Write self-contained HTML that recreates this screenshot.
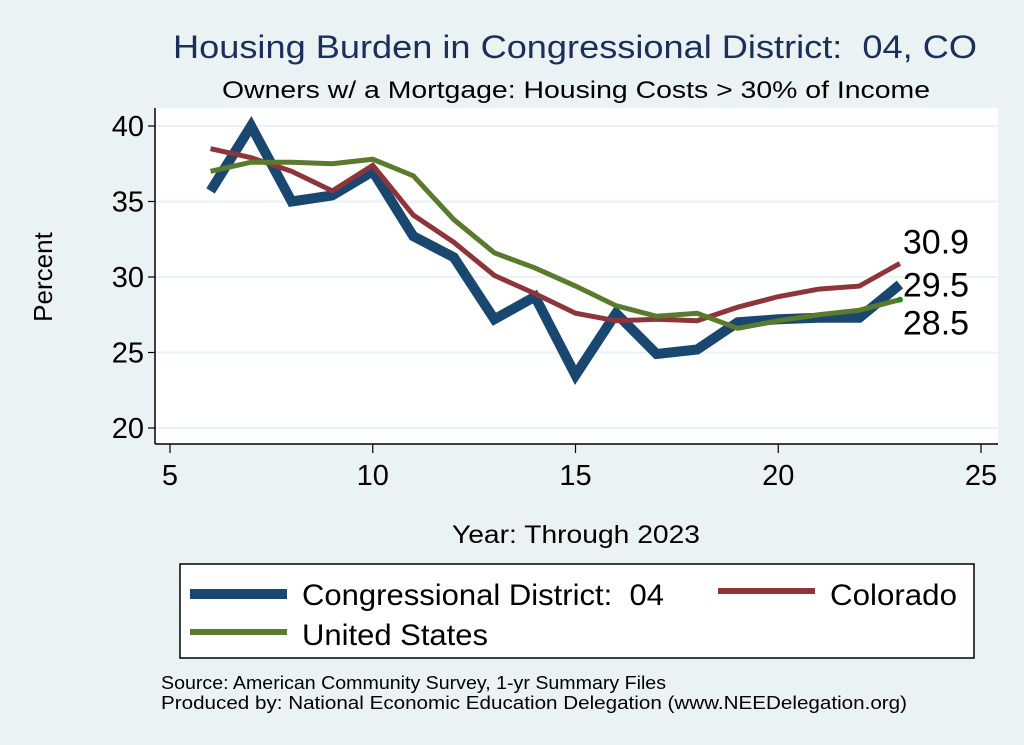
<!DOCTYPE html>
<html><head><meta charset="utf-8"><style>
body{margin:0;background:#eaf2f3;}
svg{display:block;font-family:"Liberation Sans",Arial,sans-serif;}
text{white-space:pre;}
</style></head><body>
<svg id="chart" width="1024" height="745" viewBox="0 0 1024 745">
<rect x="0" y="0" width="1024" height="745" fill="#eaf2f3"/>
<text x="173" y="58" font-size="32" fill="#1a2f5a" textLength="804" lengthAdjust="spacingAndGlyphs">Housing Burden in Congressional District:&#160; 04, CO</text>
<text x="222" y="98" font-size="24" fill="#000" textLength="708" lengthAdjust="spacingAndGlyphs">Owners w/ a Mortgage: Housing Costs &gt; 30% of Income</text>
<rect x="155" y="108" width="843" height="336" fill="#fff"/>
<g id="grid"></g>
<line x1="155" y1="108" x2="155" y2="444" stroke="#000" stroke-width="1.5"/>
<line x1="155" y1="444" x2="998" y2="444" stroke="#000" stroke-width="1.5"/>
<g id="yticks"></g><g id="xticks"></g>
<g id="series"></g>
<text x="52" y="277" font-size="26" text-anchor="middle" transform="rotate(-90 52 277)">Percent</text>
<text x="452" y="543" font-size="25" textLength="248" lengthAdjust="spacingAndGlyphs">Year: Through 2023</text>
<g>
<rect x="180" y="564" width="794" height="94" fill="#fff" stroke="#000" stroke-width="1.5"/>
<line x1="190" y1="594" x2="287" y2="594" stroke="#1a4770" stroke-width="10"/>
<text x="302" y="605" font-size="30" textLength="362" lengthAdjust="spacingAndGlyphs">Congressional District:&#160; 04</text>
<line x1="718" y1="591" x2="815" y2="591" stroke="#8e353c" stroke-width="6"/>
<text x="830" y="605" font-size="30" textLength="127" lengthAdjust="spacingAndGlyphs">Colorado</text>
<line x1="190" y1="632" x2="287" y2="632" stroke="#5a7a2e" stroke-width="6"/>
<text x="302" y="645" font-size="30" textLength="186" lengthAdjust="spacingAndGlyphs">United States</text>
</g>
<text x="161" y="689" font-size="18" textLength="505" lengthAdjust="spacingAndGlyphs">Source: American Community Survey, 1-yr Summary Files</text>
<text x="161" y="709" font-size="18" textLength="746" lengthAdjust="spacingAndGlyphs">Produced by: National Economic Education Delegation (www.NEEDelegation.org)</text>
</svg>
<script>
const years=[6,7,8,9,10,11,12,13,14,15,16,17,18,19,20,21,22,23];
const district=[35.7,40.0,35.0,35.4,37.0,32.7,31.3,27.2,28.7,23.5,27.6,24.9,25.2,27.0,27.2,27.3,27.3,29.5];
const colorado=[38.5,37.9,37.0,35.7,37.4,34.1,32.3,30.1,28.9,27.6,27.1,27.2,27.1,28.0,28.7,29.2,29.4,30.9];
const us=[37.0,37.6,37.6,37.5,37.8,36.7,33.8,31.6,30.6,29.4,28.1,27.4,27.6,26.6,27.1,27.5,27.8,28.5];
const yTicks=[20,25,30,35,40];
const xTicks=[5,10,15,20,25];
const NS="http://www.w3.org/2000/svg";
function xs(v){return 170+(v-5)*(981-170)/20;}
function ys(v){return 428-(v-20)*(428-126)/20;}
function mk(tag,attrs,parent){const e=document.createElementNS(NS,tag);for(const k in attrs)e.setAttribute(k,attrs[k]);document.getElementById(parent).appendChild(e);return e;}
yTicks.forEach(t=>{
  const g=mk('line',{x1:155,x2:998,y1:ys(t),y2:ys(t),stroke:'#eaf2f3','stroke-width':2},'grid');
  
  
  const tk=mk('line',{x1:148,x2:155,y1:ys(t),y2:ys(t),stroke:'#000','stroke-width':1.2},'yticks');
  
  
  const tx=mk('text',{x:144,y:ys(t)+10,'font-size':29,'text-anchor':'end'},'yticks');
  tx.textContent=t;
  
  
});
xTicks.forEach(t=>{
  const tk=mk('line',{x1:xs(t),x2:xs(t),y1:444,y2:453,stroke:'#000','stroke-width':1.2},'xticks');
  
  
  const tx=mk('text',{x:xs(t),y:485,'font-size':29,'text-anchor':'middle'},'xticks');
  tx.textContent=t;
  
  
});
function line(vals,color,w,name){
  const p=mk('polyline',{points:vals.map((v,i)=>xs(years[i])+','+ys(v)).join(' '),fill:'none',stroke:color,'stroke-width':w,'stroke-linejoin':'miter'},'series');
  
  
}
line(district,'#1a4770',10,'line-district');
line(colorado,'#8e353c',5,'line-colorado');
line(us,'#5a7a2e',5,'line-us');
const n=years.length-1;
const dot=mk('circle',{cx:xs(years[n]),cy:ys(us[n]),r:3,fill:'#1e8a1e'},'series');


[[colorado[n],ys(colorado[n])-10,'label-colorado-end'],[district[n],ys(district[n])+12,'label-district-end'],[us[n],ys(us[n])+35,'label-us-end']].forEach(a=>{
  const t=mk('text',{x:xs(years[n])+3,y:a[1],'font-size':34},'series');
  t.textContent=a[0].toFixed(1);
  
  
});
</script>
</body></html>
